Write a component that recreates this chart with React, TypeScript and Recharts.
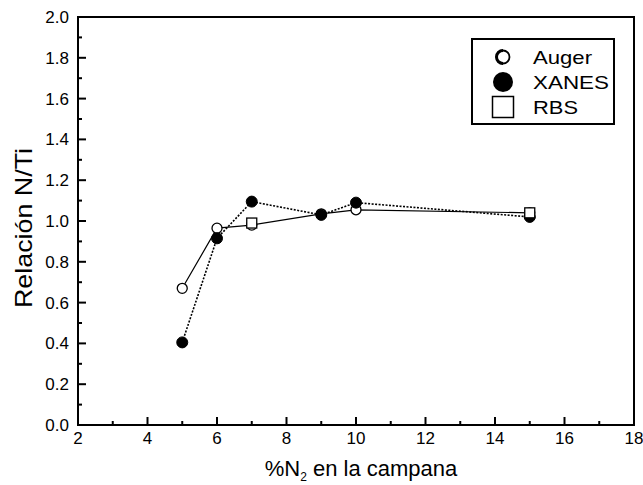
import React from 'react';
import { LineChart, Line, XAxis, YAxis, ReferenceArea } from 'recharts';

const augerX = [5, 6, 7, 9, 10, 15];
const augerY = [0.67, 0.965, 0.98, 1.035, 1.055, 1.04];
const xanesX = [5, 6, 7, 9, 10, 15];
const xanesY = [0.405, 0.915, 1.095, 1.03, 1.09, 1.02];
const rbsX = [7, 15];
const rbsY = [0.99, 1.04];

const xTicks = [2, 3, 4, 5, 6, 7, 8, 9, 10, 11, 12, 13, 14, 15, 16, 17, 18];
const yTicks = [0, 0.1, 0.2, 0.3, 0.4, 0.5, 0.6, 0.7, 0.8, 0.9, 1.0, 1.1, 1.2, 1.3, 1.4, 1.5, 1.6, 1.7, 1.8, 1.9, 2.0];

const auger = augerX.map((x, i) => ({ x, y: augerY[i] }));
const xanes = xanesX.map((x, i) => ({ x, y: xanesY[i] }));
const rbs = rbsX.map((x, i) => ({ x, y: rbsY[i] }));

const FONT = '"Liberation Sans", Arial, sans-serif';

const XTick = (props: any) => {
  const { x, y, payload } = props;
  const v = payload.value;
  const major = v % 2 === 0;
  return (
    <g>
      <line x1={x} y1={y} x2={x} y2={y - (major ? 8 : 4)} stroke="#000" strokeWidth={2} />
      {major && (
        <text x={x} y={y + 19} textAnchor="middle" fontSize={17} fontFamily={FONT} fill="#000">
          {v}
        </text>
      )}
    </g>
  );
};

const YTick = (props: any) => {
  const { x, y, payload } = props;
  const v = payload.value;
  const major = Math.round(v * 10) % 2 === 0;
  return (
    <g>
      <line x1={x} y1={y} x2={x + (major ? 8 : 4)} y2={y} stroke="#000" strokeWidth={2} />
      {major && (
        <text x={x - 9} y={y + 6} textAnchor="end" fontSize={17} fontFamily={FONT} fill="#000">
          {v.toFixed(1)}
        </text>
      )}
    </g>
  );
};

const OpenCircle = (props: any) => {
  const { cx, cy } = props;
  if (cx == null || cy == null) return null;
  return <circle cx={cx} cy={cy} r={5} fill="#fff" stroke="#000" strokeWidth={1.3} />;
};
const FilledCircle = (props: any) => {
  const { cx, cy } = props;
  if (cx == null || cy == null) return null;
  return <circle cx={cx} cy={cy} r={5.5} fill="#000" stroke="#000" strokeWidth={1} />;
};
const OpenSquare = (props: any) => {
  const { cx, cy } = props;
  if (cx == null || cy == null) return null;
  return <rect x={cx - 5} y={cy - 5} width={10} height={10} fill="#fff" stroke="#000" strokeWidth={1.3} />;
};

const LegendBox = () => (
  <div
    style={{
      position: 'absolute',
      left: 471,
      top: 38,
      width: 144,
      height: 87,
      border: '2px solid #000',
      boxSizing: 'border-box',
      background: '#fff',
    }}
  >
    <svg width={140} height={83} style={{ position: 'absolute', left: 0, top: 0 }}>
      <circle cx={30} cy={17} r={6.5} fill="#fff" stroke="#000" strokeWidth={1.8} />
      <path d="M 30 10.5 A 6.5 6.5 0 0 0 30 23.5" fill="none" stroke="#000" strokeWidth={3} />
      <circle cx={30} cy={42} r={10} fill="#000" />
      <rect x={19.5} y={56.5} width={21} height={21} fill="#fff" stroke="#000" strokeWidth={1.5} />
      <text x={60} y={24} fontSize={19} fontFamily={FONT} fill="#000" textLength={59} lengthAdjust="spacingAndGlyphs">Auger</text>
      <text x={60} y={49} fontSize={19} fontFamily={FONT} fill="#000" textLength={76} lengthAdjust="spacingAndGlyphs">XANES</text>
      <text x={60} y={74} fontSize={19} fontFamily={FONT} fill="#000" textLength={45} lengthAdjust="spacingAndGlyphs">RBS</text>
    </svg>
  </div>
);

export default function App() {
  return (
    <div style={{ position: 'absolute', left: 0, top: 0, width: 643, height: 485, background: '#fff' }}>
      <LineChart width={643} height={485} margin={{ top: 17, right: 9, left: 0, bottom: 0 }}>
        <XAxis
          type="number"
          dataKey="x"
          domain={[2, 18]}
          ticks={xTicks}
          interval={0}
          allowDataOverflow
          axisLine={false}
          tickLine={false}
          tickSize={0}
          tickMargin={0}
          tick={<XTick />}
          height={60}
          label={{
            position: 'insideBottom',
            content: (p: any) => {
              const vb = p.viewBox;
              return (
                <text x={vb.x + vb.width / 2 + 5} y={vb.y + 51} textAnchor="middle" fontSize={22} fontFamily={FONT} fill="#000">
                  %N<tspan fontSize={12} dy={5}>2</tspan>
                  <tspan dy={-5}> en la campana</tspan>
                </text>
              );
            },
          }}
        />
        <YAxis
          type="number"
          dataKey="y"
          domain={[0, 2]}
          ticks={yTicks}
          interval={0}
          allowDataOverflow
          axisLine={false}
          tickLine={false}
          tickSize={0}
          tickMargin={0}
          tick={<YTick />}
          width={78}
          label={{
            position: 'insideLeft',
            content: (p: any) => {
              const cx = 32;
              const cy = 228;
              return (
                <text x={cx} y={cy} transform={`rotate(-90 ${cx} ${cy})`} textAnchor="middle" fontSize={24} fontFamily={FONT} fill="#000" textLength={160} lengthAdjust="spacingAndGlyphs">
                  Relación N/Ti
                </text>
              );
            },
          }}
        />
        <ReferenceArea x1={2} x2={18} y1={0} y2={2} fill="none" stroke="#000" strokeWidth={2} strokeOpacity={1} fillOpacity={0} />
        <Line
          data={auger}
          dataKey="y"
          stroke="#000"
          strokeWidth={1.2}
          isAnimationActive={false}
          dot={<OpenCircle />}
          activeDot={false}
        />
        <Line
          data={xanes}
          dataKey="y"
          stroke="#000"
          strokeWidth={1.6}
          strokeDasharray="2 1.5"
          isAnimationActive={false}
          dot={<FilledCircle />}
          activeDot={false}
        />
        <Line
          data={rbs}
          dataKey="y"
          stroke="none"
          isAnimationActive={false}
          dot={<OpenSquare />}
          activeDot={false}
        />
      </LineChart>
      <LegendBox />
    </div>
  );
}
